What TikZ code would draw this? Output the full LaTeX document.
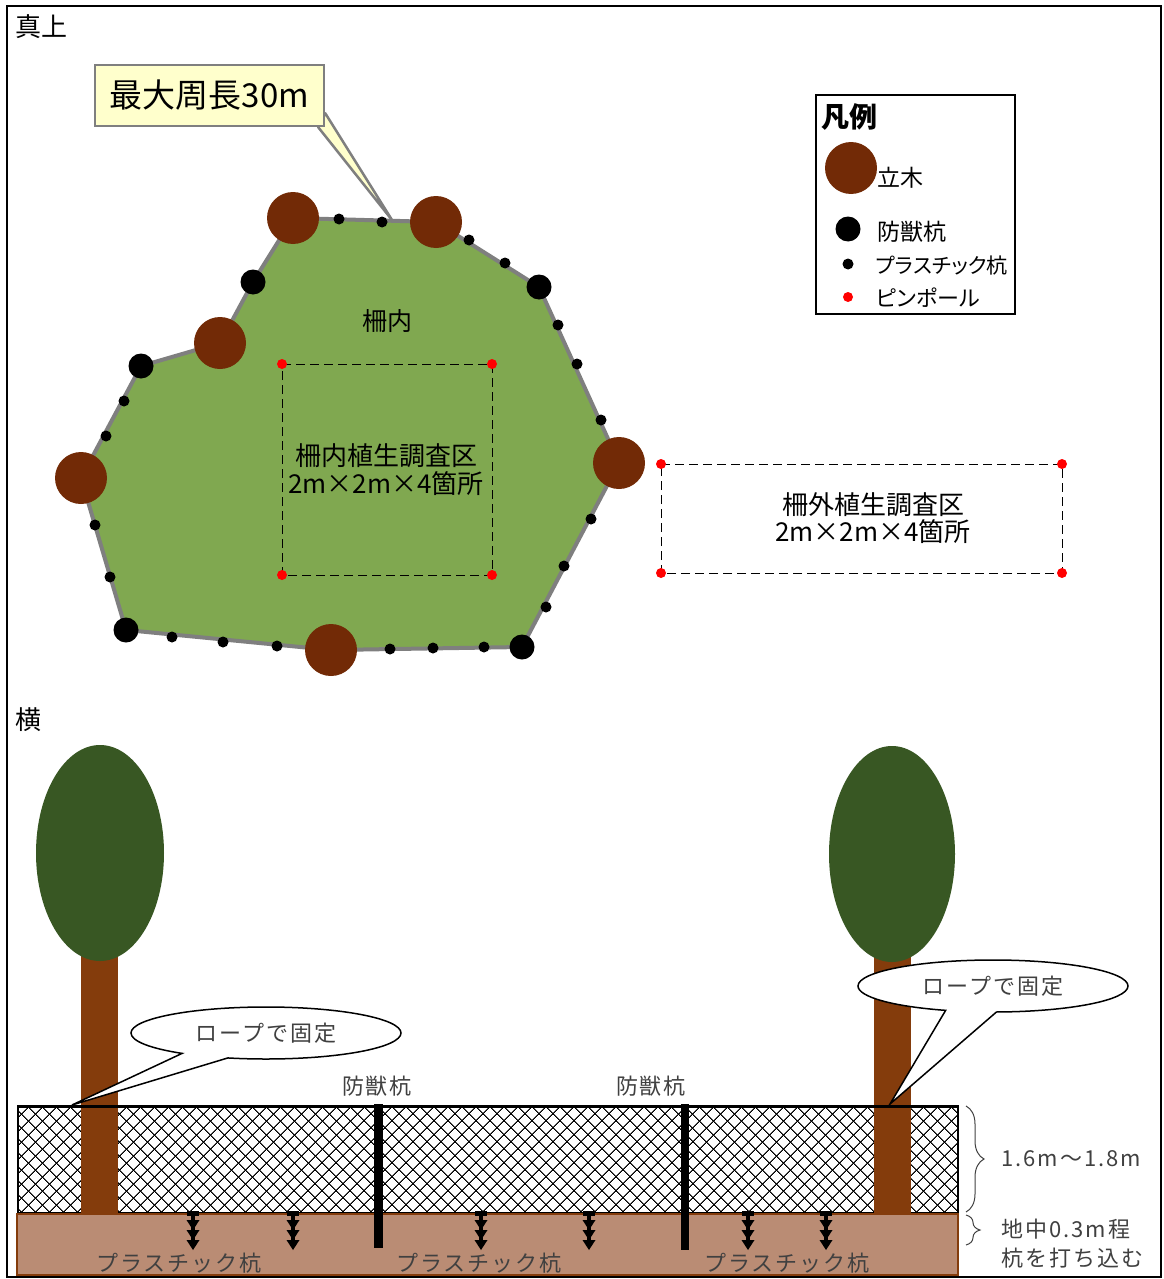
\documentclass[tikz,border=0pt]{standalone}
\usepackage{fontspec}
\setmainfont{Noto Sans CJK JP}
\newfontfamily\propjp[RawFeature=+palt]{Noto Sans CJK JP}
\newfontfamily\spacedjp[LetterSpace=9]{Noto Sans CJK JP}
\usetikzlibrary{shapes.geometric,shapes.callouts,patterns.meta,decorations.pathreplacing}
\pgfdeclarelayer{behind}
\pgfsetlayers{behind,main}
\newcommand\jpsize[1]{\fontsize{#1}{#1}\selectfont}
\definecolor{lawn}{RGB}{128,168,80}
\definecolor{fenceline}{RGB}{127,127,127}
\definecolor{treebrown}{RGB}{114,42,6}
\definecolor{trunkbrown}{RGB}{132,60,12}
\definecolor{crowngreen}{RGB}{56,87,35}
\definecolor{soil}{RGB}{186,140,116}
\definecolor{notefill}{RGB}{255,255,204}
\definecolor{labelgray}{RGB}{64,64,64}
\definecolor{pinred}{RGB}{255,0,0}
\begin{document}
\begin{tikzpicture}[x=1pt,y=-1pt,
  txt/.style={inner sep=0pt},
  standingtree/.style={circle,fill=treebrown,minimum size=52pt,inner sep=0pt},
  animalpost/.style={circle,fill=black,minimum size=25pt,inner sep=0pt},
  plasticdot/.style={circle,fill=black,minimum size=11pt,inner sep=0pt},
  pinpole/.style={circle,fill=pinred,minimum size=10pt,inner sep=0pt},
  plotline/.style={line width=1pt,dash pattern=on 9pt off 5pt},
  sidetext/.style={inner sep=0pt,text=labelgray,font=\spacedjp\jpsize{22}},
  ropenote/.style={ellipse callout,draw,line width=1.5pt,fill=white,minimum width=270pt,minimum height=52pt,callout pointer arc=22,sidetext},
  crown/.style={ellipse,fill=crowngreen,minimum width=128pt,minimum height=216pt,inner sep=0pt},
  netmesh/.style={pattern={Lines[angle=#1,distance=10.5pt,line width=1pt]}},
  plasticpeg/.pic={
    \fill (-6,-1) rectangle (6,4);
    \draw[line width=3.5pt] (0,0) -- (0,30);
    \foreach \t in {18,28,38} \fill (-6.5,\t-10) -- (6.5,\t-10) -- (0,\t) -- cycle;
  },
]
\useasboundingbox (0,0) rectangle (1163,1279);
\draw[line width=1.5pt] (7,6) rectangle (1161,1277);

% ================= plan view =================
\node[txt,anchor=west,font=\jpsize{26}] (planlabel) at (15,27) {真上};

% fence outline
\coordinate (v1) at (293,218);
\coordinate (v2) at (436,222);
\coordinate (v3) at (539,287);
\coordinate (v4) at (619,463);
\coordinate (v5) at (522,647);
\coordinate (v6) at (331,650);
\coordinate (v7) at (126,630);
\coordinate (v8) at (81,478);
\coordinate (v9) at (141,366);
\coordinate (v10) at (220,343);
\coordinate (v11) at (253,282);
\draw[draw=fenceline,line width=4pt,fill=lawn,line join=round]
  (v1) -- (v2) -- (v3) -- (v4) -- (v5) -- (v6) -- (v7) -- (v8) -- (v9) -- (v10) -- (v11) -- cycle;
\coordinate (perim) at (392,220);

\node[txt,font=\jpsize{25}] (insidelabel) at (387,321) {柵内};

% inner vegetation plot
\coordinate (i1) at (282,364);
\coordinate (i2) at (492,364);
\coordinate (i3) at (492,575);
\coordinate (i4) at (282,575);
\draw[plotline] (i1) -- (i2) -- (i3) -- (i4) -- cycle;
\node[txt,align=center,font=\fontsize{26}{28}\selectfont] (insideplot) at (386,470) {柵内植生調査区\\2m×2m×4箇所};
\foreach \c in {i1,i2,i3,i4} \node[pinpole] (pin-\c) at (\c) {};

% outer vegetation plot
\coordinate (o1) at (661,464);
\coordinate (o2) at (1062,464);
\coordinate (o3) at (1062,573);
\coordinate (o4) at (661,573);
\draw[plotline] (o1) -- (o2) -- (o3) -- (o4) -- cycle;
\node[txt,align=center,font=\fontsize{26}{27}\selectfont] (outsideplot) at (873,518) {柵外植生調査区\\2m×2m×4箇所};
\foreach \c in {o1,o2,o3,o4} \node[pinpole] (pin-\c) at (\c) {};

% plastic stakes along the fence
\foreach \x/\y [count=\i] in {339/219,382/222,469/240,505/263,558/325,577/364,601/420,591/519,564/566,546/607,484/647,433/648,390/649,277/646,223/642,172/637,110/577,95/525,106/436,124/401}
  \node[plasticdot] (peg\i) at (\x,\y) {};
% animal-proof posts
\foreach \c in {v3,v5,v7,v9,v11} \node[animalpost] (post-\c) at (\c) {};
% standing trees
\foreach \c in {v1,v2,v4,v6,v8,v10} \node[standingtree] (tree-\c) at (\c) {};

% perimeter note
\node[draw=fenceline,line width=2.5pt,fill=notefill,minimum width=229pt,minimum height=61pt,inner sep=0pt,font=\jpsize{33}] (perimnote) at (209.5,95.5) {最大周長30m};
\begin{pgfonlayer}{behind}
  \draw[draw=fenceline,line width=2.5pt,fill=notefill,line join=round]
    ([yshift=14pt]perimnote.south east) -- (perim) -- ([xshift=-7pt]perimnote.south east) -- cycle;
\end{pgfonlayer}

% legend
\node[draw,line width=2pt,minimum width=199pt,minimum height=219pt,inner sep=0pt] (legend) at (915.5,204.5) {};
\node[txt,anchor=west,font=\bfseries\jpsize{28}] (legtitle) at (821,117) {凡例};
\node[standingtree] (legtree) at (851,168) {};
\node[txt,anchor=west,font=\jpsize{23}] (legtreetext) at (877,178) {立木};
\node[animalpost] (legpost) at (848,229) {};
\node[txt,anchor=west,font=\propjp\jpsize{23}] (legposttext) at (877,232) {防獣杭};
\node[plasticdot] (legpeg) at (848,264) {};
\node[txt,anchor=west,font=\propjp\jpsize{21}] (legpegtext) at (876,266) {プラスチック杭};
\node[pinpole] (legpin) at (848,297) {};
\node[txt,anchor=west,font=\propjp\jpsize{22}] (legpintext) at (876,298) {ピンポール};

% ================= side view =================
\node[txt,anchor=west,font=\jpsize{26}] (sidelabel) at (15,720) {横};

% fence net
\path[netmesh=45] (18,1106) rectangle (958,1213);
\path[netmesh=-45] (18,1106) rectangle (958,1213);
\draw[line width=1.5pt] (18,1106) rectangle (958,1213);

% ground
\draw[draw=trunkbrown,line width=1.5pt,fill=soil] (17,1214) rectangle (958,1275);

% trees
\fill[trunkbrown] (81,930) rectangle (118,1214);
\fill[trunkbrown] (874,930) rectangle (911,1214);
\node[crown] (crownL) at (100,853) {};
\node[crown,minimum width=126pt] (crownR) at (892,854) {};

% top rope of the net
\draw[line width=3pt] (17,1106) -- (959,1106);

% animal-proof posts
\fill (374,1104) rectangle (383,1248);
\fill (681,1104) rectangle (689,1250);
\node[sidetext] (postlabelL) at (377,1086) {防獣杭};
\node[sidetext] (postlabelR) at (651,1086) {防獣杭};

% plastic stakes
\foreach \x [count=\i] in {193,293,481,589,748,826}
  \pic (ppeg\i) at (\x,1212) {plasticpeg};
\node[sidetext] (peglabel1) at (179,1263) {プラスチック杭};
\node[sidetext] (peglabel2) at (479,1263) {プラスチック杭};
\node[sidetext] (peglabel3) at (787,1263) {プラスチック杭};

% rope notes
\coordinate (tieL) at (72,1105);
\coordinate (tieR) at (890,1104);
\node[ropenote,callout absolute pointer={(tieL)}] (ropeL) at (266,1033) {ロープで固定};
\node[ropenote,callout absolute pointer={(tieR)}] (ropeR) at (993,986) {ロープで固定};

% dimensions
\draw[decorate,decoration={brace,amplitude=18pt},line width=1pt,draw=labelgray] (966,1106) -- (966,1212);
\draw[decorate,decoration={brace,amplitude=14pt},line width=1pt,draw=labelgray] (966,1215) -- (966,1245);
\node[sidetext,anchor=west] (height) at (1001,1159) {1.6m～1.8m};
\node[sidetext,anchor=west] (depth1) at (1001,1229) {地中0.3m程};
\node[sidetext,anchor=west] (depth2) at (1001,1258) {杭を打ち込む};
\end{tikzpicture}
\end{document}
